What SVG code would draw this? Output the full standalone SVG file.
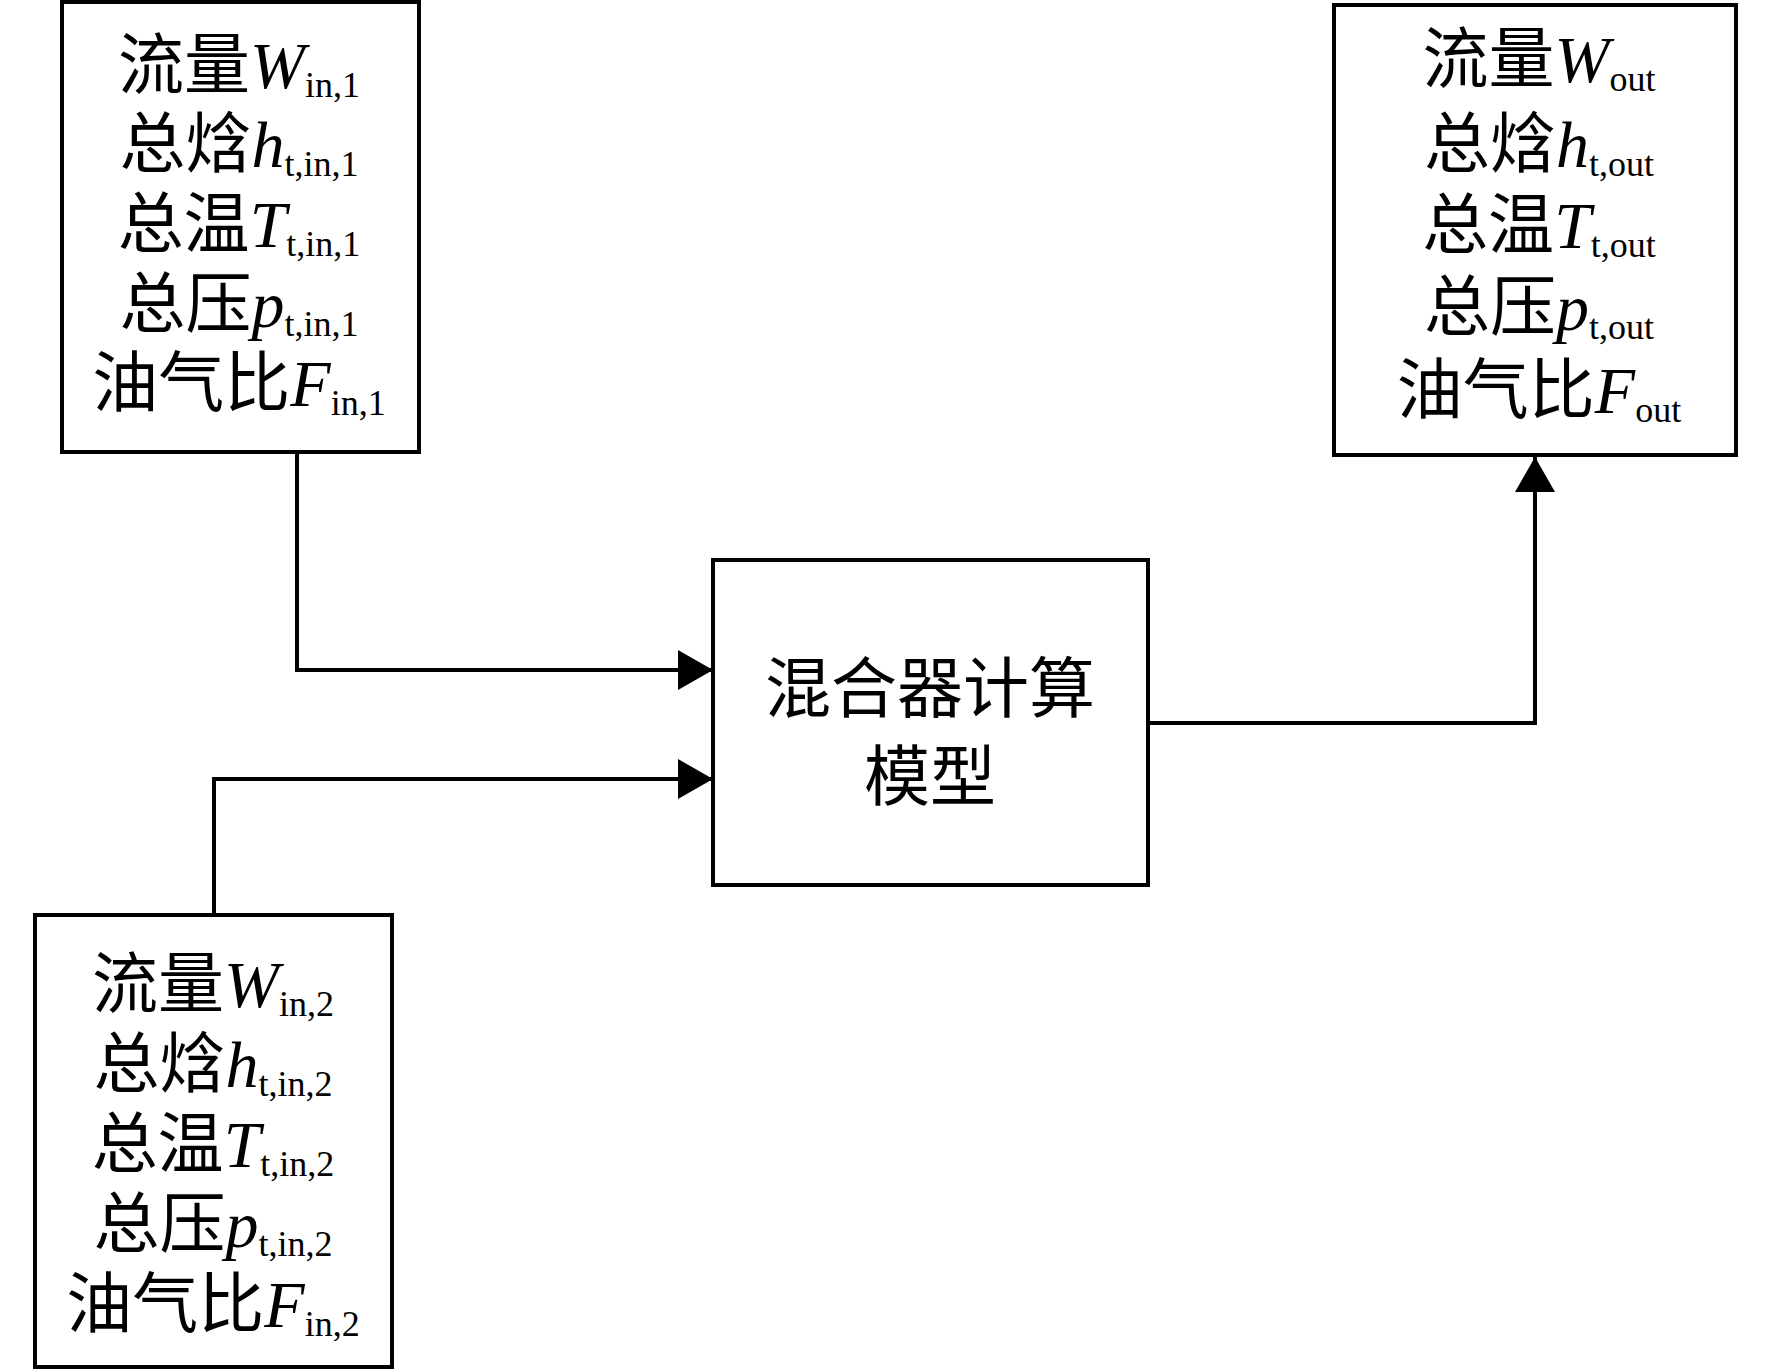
<svg xmlns="http://www.w3.org/2000/svg" width="1772" height="1371" viewBox="0 0 1772 1371">
<defs>
<style>
.box{fill:#fff;stroke:#000;stroke-width:4}
.t{font-family:"Liberation Serif","Noto Sans CJK SC",serif;font-size:66px;fill:#000;text-anchor:middle}
.v{font-style:italic}
.s{font-size:36px}
.c{fill:none;stroke:#000;stroke-width:4}
</style>
<marker id="ah" markerUnits="userSpaceOnUse" markerWidth="36" markerHeight="42" refX="35" refY="20" orient="auto">
<path d="M0,0 L35,20 L0,40 Z" fill="#000"/>
</marker>
</defs>
<rect width="1772" height="1371" fill="#fff"/>
<g id="connectors">
<path class="c" d="M297,452 V670 H713" marker-end="url(#ah)"/>
<path class="c" d="M214,915 V779 H713" marker-end="url(#ah)"/>
<path class="c" d="M1148,723 H1535 V457" marker-end="url(#ah)"/>
</g>
<g id="in1">
<rect class="box" x="62" y="2" width="357" height="450"/>
<text class="t" x="239" y="88">流量<tspan class="v">W</tspan><tspan class="s" dy="9">in,1</tspan></text>
<text class="t" x="239" y="167">总焓<tspan class="v">h</tspan><tspan class="s" dy="9">t,in,1</tspan></text>
<text class="t" x="239" y="247">总温<tspan class="v">T</tspan><tspan class="s" dy="9">t,in,1</tspan></text>
<text class="t" x="239" y="327">总压<tspan class="v">p</tspan><tspan class="s" dy="9">t,in,1</tspan></text>
<text class="t" x="239" y="406">油气比<tspan class="v">F</tspan><tspan class="s" dy="9">in,1</tspan></text>
</g>
<g id="out">
<rect class="box" x="1334" y="5" width="402" height="450"/>
<text class="t" x="1539" y="82">流量<tspan class="v">W</tspan><tspan class="s" dy="9">out</tspan></text>
<text class="t" x="1539" y="167">总焓<tspan class="v">h</tspan><tspan class="s" dy="9">t,out</tspan></text>
<text class="t" x="1539" y="248">总温<tspan class="v">T</tspan><tspan class="s" dy="9">t,out</tspan></text>
<text class="t" x="1539" y="330">总压<tspan class="v">p</tspan><tspan class="s" dy="9">t,out</tspan></text>
<text class="t" x="1539" y="413">油气比<tspan class="v">F</tspan><tspan class="s" dy="9">out</tspan></text>
</g>
<g id="in2">
<rect class="box" x="35" y="915" width="357" height="452"/>
<text class="t" x="213" y="1007">流量<tspan class="v">W</tspan><tspan class="s" dy="9">in,2</tspan></text>
<text class="t" x="213" y="1087">总焓<tspan class="v">h</tspan><tspan class="s" dy="9">t,in,2</tspan></text>
<text class="t" x="213" y="1167">总温<tspan class="v">T</tspan><tspan class="s" dy="9">t,in,2</tspan></text>
<text class="t" x="213" y="1247">总压<tspan class="v">p</tspan><tspan class="s" dy="9">t,in,2</tspan></text>
<text class="t" x="213" y="1327">油气比<tspan class="v">F</tspan><tspan class="s" dy="9">in,2</tspan></text>
</g>
<g id="mixer">
<rect class="box" x="713" y="560" width="435" height="325"/>
<text class="t" x="930" y="712">混合器计算</text>
<text class="t" x="930" y="800">模型</text>
</g>
</svg>
